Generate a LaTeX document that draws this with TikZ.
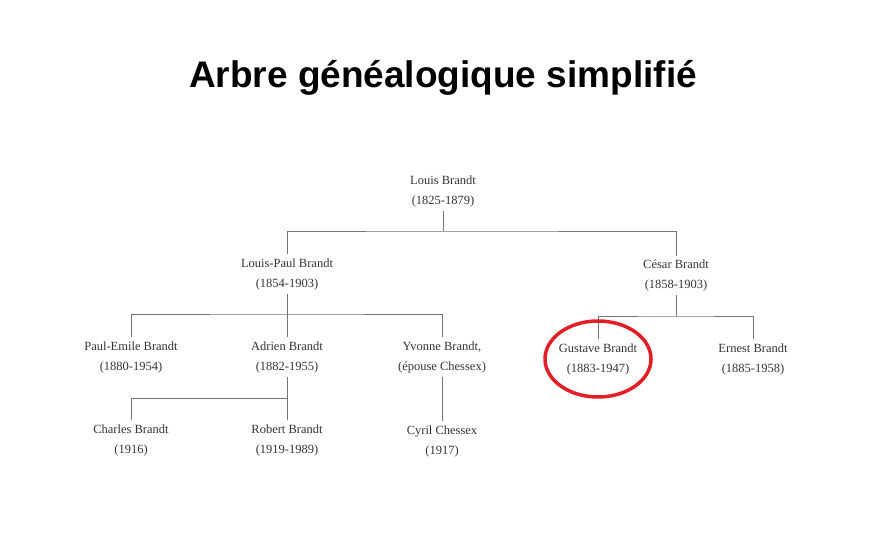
\documentclass[tikz,border=0pt]{standalone}
\usepackage{fontspec}
\setmainfont{Liberation Serif}
\newfontfamily\titlefont{Liberation Sans}
\usetikzlibrary{positioning}

\begin{document}
\begin{tikzpicture}[x=1pt, y=-1pt,
        person/.style={align=center, inner sep=4pt, text=black!80, font=\fontsize{12.5}{20}\selectfont},
        link/.style={draw=black!55, line width=0.8pt},
        highlight/.style={draw={rgb,255:red,226;green,30;blue,38}, line width=3.5pt}
    ]
        \useasboundingbox (0,0) rectangle (887,537);

        % Title
        \node[font=\titlefont\bfseries\fontsize{37}{40}\selectfont] (title) at (443,78) {Arbre généalogique simplifié};

        % Generation 1 and 2
        \node[person] (louis) at (443,191) {Louis Brandt\\(1825-1879)};
        \node[person] (lpaul) at (287,274) {Louis-Paul Brandt\\(1854-1903)};
        \node[person] (cesar) at (676,275.5) {César Brandt\\(1858-1903)};

        % Generation 3
        \node[person] (paulemile) at (131,357) {Paul-Emile Brandt\\(1880-1954)};
        \node[person] (adrien) at (287,357) {Adrien Brandt\\(1882-1955)};
        \node[person] (yvonne) at (442,357) {Yvonne Brandt,\\(épouse Chessex)};
        \node[person] (gustave) at (598,359) {Gustave Brandt\\(1883-1947)};
        \node[person] (ernest) at (753,359) {Ernest Brandt\\(1885-1958)};

        % Generation 4
        \node[person] (charles) at (131,440) {Charles Brandt\\(1916)};
        \node[person] (robert) at (287,440) {Robert Brandt\\(1919-1989)};
        \node[person] (cyril) at (442,441) {Cyril Chessex\\(1917)};

        % Branches
        \coordinate (bar0) at (443,231);
        \coordinate (bar1) at (287,314);
        \coordinate (bar2) at (287,398);
        \coordinate (bar3) at (676,316);

        \draw[link] (louis) -- (bar0);
        \draw[link] (lpaul.north) |- (bar0) -| (cesar.north);
        \draw[link] (lpaul) -- (adrien);
        \draw[link] (paulemile.north) |- (bar1) -| (yvonne.north);
        \draw[link] (adrien) -- (robert);
        \draw[link] (charles.north) |- (bar2);
        \draw[link] (yvonne) -- (cyril);
        \draw[link] (cesar) -- (bar3);
        \draw[link] (gustave.north) |- (bar3) -| (ernest.north);

        % Red circle
        \draw[highlight] (gustave.center) ellipse [x radius=53pt, y radius=38pt];
    \end{tikzpicture}
\end{document}
